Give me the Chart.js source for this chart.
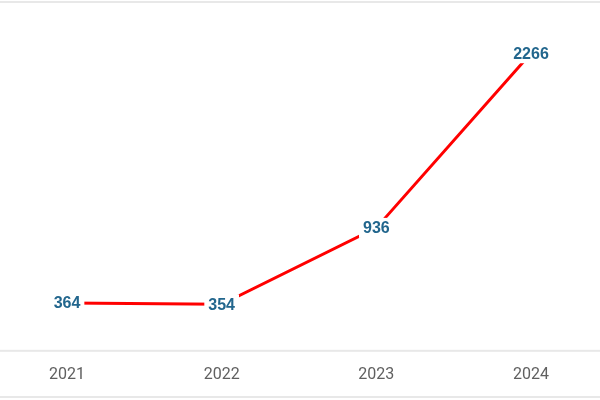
<!DOCTYPE html>
<html><head><meta charset="utf-8">
<script src="https://cdn.jsdelivr.net/npm/chart.js@4"></script>
<style>
html,body{margin:0;padding:0;background:#fff;}
#wrap{position:relative;width:600px;height:400px;}
</style></head><body>
<div id="wrap"><canvas id="c"></canvas></div>
<script>
const categories = ['2021', '2022', '2023', '2024'];
const values = [364, 354, 936, 2266];
const yMin = 0;
const yMax = 2500;

const frameLines = {
  id: 'frameLines',
  beforeDraw(chart) {
    const ctx = chart.ctx;
    ctx.save();
    ctx.fillStyle = '#ffffff';
    ctx.fillRect(0, 0, chart.width, chart.height);
    ctx.fillStyle = '#e8e8e8';
    ctx.fillRect(0, 1, chart.width, 2);
    ctx.fillRect(0, chart.chartArea.bottom - 1, chart.width, 2);
    ctx.fillRect(0, 396, chart.width, 2);
    ctx.restore();
  }
};

const valueLabels = {
  id: 'valueLabels',
  afterDatasetsDraw(chart) {
    const ctx = chart.ctx;
    const meta = chart.getDatasetMeta(0);
    ctx.save();
    ctx.font = 'bold 16px "Liberation Sans", Arial, sans-serif';
    ctx.textAlign = 'center';
    ctx.textBaseline = 'middle';
    meta.data.forEach((pt, i) => {
      const txt = String(values[i]);
      const w = ctx.measureText(txt).width;
      ctx.fillStyle = '#ffffff';
      ctx.fillRect(pt.x - w / 2 - 4, pt.y - 10, w + 8, 20);
      ctx.fillStyle = '#22668d';
      ctx.fillText(txt, pt.x, pt.y + 1);
    });
    ctx.restore();
  }
};

new Chart(document.getElementById('c'), {
  type: 'line',
  data: {
    labels: categories,
    datasets: [{
      data: values,
      borderColor: '#ff0000',
      borderWidth: 3,
      pointRadius: 0,
      tension: 0
    }]
  },
  options: {
    responsive: true,
    maintainAspectRatio: false,
    animation: false,
    layout: { padding: { top: 22.5, bottom: 0, left: 67, right: 69 } },
    plugins: { legend: { display: false }, tooltip: { enabled: false } },
    scales: {
      x: {
        offset: false,
        ticks: {
          color: '#606060',
          font: { family: 'Roboto', size: 16 },
          padding: 15,
          maxRotation: 0,
          autoSkip: false
        },
        grid: { display: false, drawTicks: false },
        border: { display: false }
      },
      y: { display: false, min: yMin, max: yMax }
    }
  },
  plugins: [frameLines, valueLabels]
});
</script>
</body></html>
